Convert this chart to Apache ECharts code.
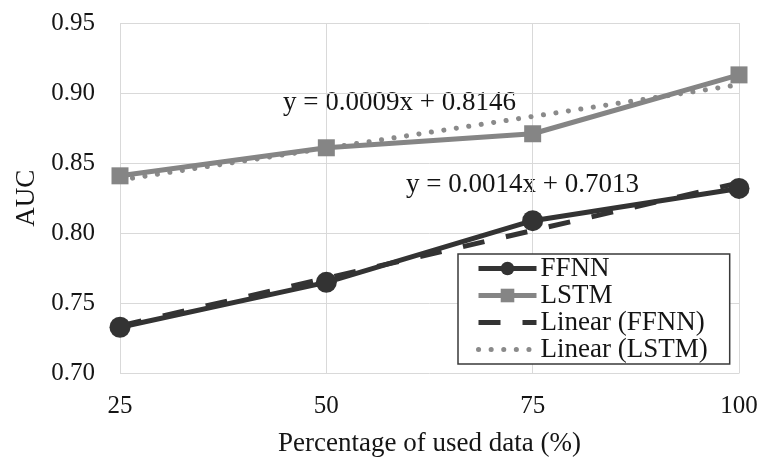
<!DOCTYPE html>
<html><head><meta charset="utf-8">
<script src="https://cdn.jsdelivr.net/npm/echarts@6/dist/echarts.min.js"></script>
<style>html,body{margin:0;padding:0;background:#fff}#c{width:760px;height:458px}</style>
</head><body><div id="c"></div>
<script>
var xValues = [25, 50, 75, 100];
var ffnn = [0.733, 0.765, 0.809, 0.832];
var lstm = [0.841, 0.861, 0.871, 0.913];
var trendX = [25, 100];
var ffnnTrend = [0.734, 0.836];
var lstmTrend = [0.838, 0.906];
var yTicks = [0.70, 0.75, 0.80, 0.85, 0.90, 0.95];
var eqFFNN = 'y = 0.0014x + 0.7013';
var eqLSTM = 'y = 0.0009x + 0.8146';

function pairs(xs, ys){ return xs.map(function(x,i){ return [x, ys[i]]; }); }

var FONT = '"Liberation Serif", "Times New Roman", serif';
var TXT = '#151515';
var chart = echarts.init(document.getElementById('c'), null, {renderer:'canvas'});
chart.setOption({
  animation: false,
  backgroundColor: '#fff',
  grid: {left: 120, top: 23, right: 21, bottom: 84.5, containLabel: false, outerBoundsMode: 'none'},
  xAxis: {
    type: 'value', min: 25, max: 100, interval: 25,
    name: 'Percentage of used data (%)', nameLocation: 'middle', nameGap: 57,
    nameTextStyle: {fontFamily: FONT, fontSize: 27, color: TXT},
    axisLine: {show: false}, axisTick: {show: false},
    axisLabel: {fontFamily: FONT, fontSize: 25, color: TXT, margin: 20},
    splitLine: {show: true, lineStyle: {color: '#d9d9d9', width: 1}}
  },
  yAxis: {
    type: 'value', min: 0.70, max: 0.95, interval: 0.05,
    name: 'AUC', nameLocation: 'middle', nameGap: 78, nameRotate: 90,
    nameTextStyle: {fontFamily: FONT, fontSize: 27, color: TXT},
    axisLine: {show: false}, axisTick: {show: false},
    axisLabel: {fontFamily: FONT, fontSize: 25, color: TXT, margin: 25,
      formatter: function(v){ return v.toFixed(2); }},
    splitLine: {show: true, lineStyle: {color: '#d9d9d9', width: 1}}
  },
  legend: {
    orient: 'vertical', left: 458, top: 254,
    backgroundColor: '#fff', borderColor: '#3a3a3a', borderWidth: 1.5, borderRadius: 0,
    padding: [1, 22, 1, 18], itemGap: 0, itemWidth: 58, itemHeight: 17,
    lineStyle: {width: 5},
    textStyle: {fontFamily: FONT, fontSize: 27, lineHeight: 27, color: TXT, padding: [0,0,0,-1]},
    data: ['FFNN', 'LSTM', 'Linear (FFNN)', 'Linear (LSTM)']
  },
  series: [
    {name: 'Linear (LSTM)', type: 'line', data: pairs(trendX, lstmTrend),
      symbol: 'circle', symbolSize: 0, showSymbol: false,
      itemStyle: {color: '#8a8a8a', opacity: 0},
      lineStyle: {color: '#8a8a8a', width: 5, type: [0.1, 12.5], cap: 'round'}, z: 1},
    {name: 'Linear (FFNN)', type: 'line', data: pairs(trendX, ffnnTrend),
      symbol: 'circle', symbolSize: 0, showSymbol: false,
      itemStyle: {color: '#333', opacity: 0},
      lineStyle: {color: '#333', width: 5, type: [22, 22]}, z: 1},
    {name: 'LSTM', type: 'line', data: pairs(xValues, lstm), symbol: 'rect', symbolSize: 17,
      itemStyle: {color: '#858585'}, lineStyle: {color: '#858585', width: 5}, z: 2},
    {name: 'FFNN', type: 'line', data: pairs(xValues, ffnn), symbol: 'circle', symbolSize: 21,
      itemStyle: {color: '#333'}, lineStyle: {color: '#333', width: 5}, z: 3}
  ],
  graphic: [
    {type: 'text', left: 283, top: 89, style: {text: eqLSTM, font: '27px ' + FONT, fill: TXT}},
    {type: 'text', left: 406, top: 171, style: {text: eqFFNN, font: '27px ' + FONT, fill: TXT}}
  ]
});
</script></body></html>
